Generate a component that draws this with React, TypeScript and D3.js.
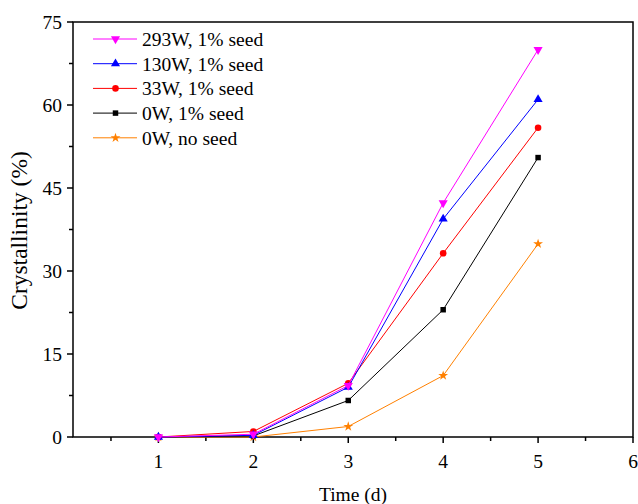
import React from "react";
import { scaleLinear, line, symbol, symbolTriangle, symbolCircle, symbolSquare, symbolStar, range } from "d3";

const days = [1, 2, 3, 4, 5];
const w293 = [0, 0.5, 9.3, 42.3, 70];
const w130 = [0, 0.3, 9.0, 39.4, 61];
const w33 = [0, 1.0, 9.7, 33.2, 55.9];
const w0 = [0, 0.2, 6.6, 23, 50.5];
const w0NoSeed = [0, 0, 1.9, 11.1, 34.9];

const xTicks = [1, 2, 3, 4, 5, 6];
const yTicks = [0, 15, 30, 45, 60, 75];

const series = [
  { name: "293W, 1% seed", values: w293, color: "#ff00ff", shape: "down" },
  { name: "130W, 1% seed", values: w130, color: "#0000ff", shape: "up" },
  { name: "33W, 1% seed", values: w33, color: "#ff0000", shape: "circle" },
  { name: "0W, 1% seed", values: w0, color: "#000000", shape: "square" },
  { name: "0W, no seed", values: w0NoSeed, color: "#ff8000", shape: "star" },
];

const W = 638;
const H = 504;
const margin = { left: 73, top: 22, right: 5, bottom: 67 };
const font = "'Liberation Serif', 'Times New Roman', serif";
const fs = 19.5;

function Marker({ shape, color, x, y }: { shape: string; color: string; x: number; y: number }) {
  let d = "";
  let rot = 0;
  if (shape === "down") { d = symbol(symbolTriangle, 36)()!; rot = 180; }
  else if (shape === "up") d = symbol(symbolTriangle, 36)()!;
  else if (shape === "circle") d = symbol(symbolCircle, 34)()!;
  else if (shape === "square") d = symbol(symbolSquare, 30)()!;
  else d = symbol(symbolStar, 30)()!;
  return <path d={d} fill={color} transform={`translate(${x},${y}) rotate(${rot})`} />;
}

export default function App() {
  const x = scaleLinear().domain([0.1, 6]).range([margin.left, W - margin.right]);
  const y = scaleLinear().domain([0, 75]).range([H - margin.bottom, margin.top]);
  const x0 = margin.left, x1 = W - margin.right, y0 = H - margin.bottom, y1 = margin.top;

  const path = line<number>()
    .x((_, i) => x(days[i]))
    .y((v) => y(v));

  const xMinor = range(0.5, 6, 1);
  const yMinor = range(7.5, 75, 15);

  return (
    <svg width={W} height={H} style={{ position: "absolute", left: 0, top: 0 }} fontFamily={font}>
      <rect x={0} y={0} width={W} height={H} fill="#fff" />
      {/* frame */}
      <rect x={x0} y={y1} width={x1 - x0} height={y0 - y1} fill="none" stroke="#000" strokeWidth={1.5} />

      {/* x ticks */}
      {xTicks.map((t) => (
        <g key={"xt" + t}>
          <line x1={x(t)} x2={x(t)} y1={y0} y2={y0 + 6} stroke="#000" strokeWidth={1.5} />
          <text x={x(t)} y={y0 + 31} textAnchor="middle" fontSize={fs}>{t}</text>
        </g>
      ))}
      {xMinor.map((t) => (
        <line key={"xm" + t} x1={x(t)} x2={x(t)} y1={y0} y2={y0 + 4} stroke="#000" strokeWidth={1.5} />
      ))}

      {/* y ticks */}
      {yTicks.map((t) => (
        <g key={"yt" + t}>
          <line x1={x0 - 6} x2={x0} y1={y(t)} y2={y(t)} stroke="#000" strokeWidth={1.5} />
          <text x={x0 - 11} y={y(t) + 7} textAnchor="end" fontSize={fs}>{t}</text>
        </g>
      ))}
      {yMinor.map((t) => (
        <line key={"ym" + t} x1={x0 - 4} x2={x0} y1={y(t)} y2={y(t)} stroke="#000" strokeWidth={1.5} />
      ))}

      {/* axis titles */}
      <text x={(x0 + x1) / 2} y={H - 3} textAnchor="middle" fontSize={fs}>Time (d)</text>
      <text transform={`translate(27,${(y0 + y1) / 2 + 1}) rotate(-90)`} textAnchor="middle" fontSize={23.5}>Crystallinity (%)</text>

      {/* series, drawn bottom legend entry first */}
      {[...series].reverse().map((s) => (
        <g key={s.name}>
          <path d={path(s.values)!} fill="none" stroke={s.color} strokeWidth={1} />
          {s.values.map((v, i) => (
            <Marker key={i} shape={s.shape} color={s.color} x={x(days[i])} y={y(v)} />
          ))}
        </g>
      ))}

      {/* legend */}
      {series.map((s, i) => {
        const ly = 39 + i * 24.7;
        return (
          <g key={"lg" + s.name}>
            <line x1={93} x2={137} y1={ly} y2={ly} stroke={s.color} strokeWidth={1} />
            <Marker shape={s.shape} color={s.color} x={115.5} y={ly} />
            <text x={142} y={ly + 7} fontSize={fs}>{s.name}</text>
          </g>
        );
      })}
    </svg>
  );
}
